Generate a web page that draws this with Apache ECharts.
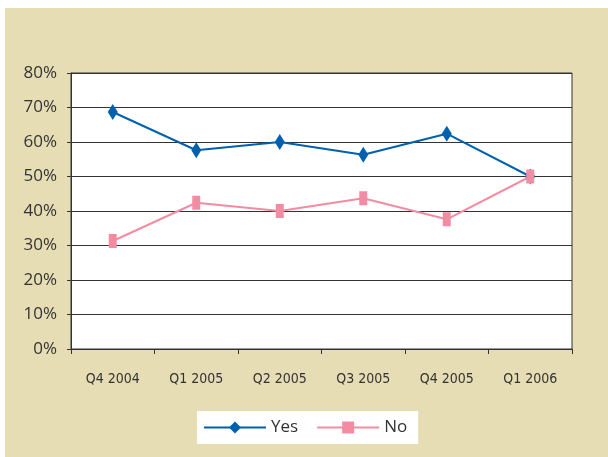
<!DOCTYPE html>
<html>
<head>
<meta charset="utf-8">
<script src="https://cdn.jsdelivr.net/npm/echarts@6/dist/echarts.min.js"></script>
<style>
  html, body { margin: 0; padding: 0; background: #fff; }
  #chart { position: absolute; left: 5px; top: 8px; width: 603px; height: 449px; background: #e6ddb5; }
</style>
</head>
<body>
<div id="chart"></div>
<script>
// quarters and survey shares (%)
var quarters = ['Q4 2004', 'Q1 2005', 'Q2 2005', 'Q3 2005', 'Q4 2005', 'Q1 2006'];
var yesValues = [68.7, 57.6, 60.0, 56.3, 62.4, 50.0];
var noValues = [31.3, 42.4, 40.0, 43.7, 37.6, 50.0];

var myChart = echarts.init(document.getElementById('chart'));
var option = {
    animation: false,
    textStyle: { fontFamily: 'Open Sans' },
    grid: {
        left: 66,
        top: 65,
        right: 36,
        bottom: 108,
        show: true,
        backgroundColor: '#fff',
        borderColor: '#333',
        borderWidth: 1
    },
    legend: {
        left: 192,
        top: 403,
        backgroundColor: '#fff',
        padding: [8, 11, 8, 6],
        itemWidth: 62,
        itemHeight: 15,
        itemGap: 18,
        textStyle: { color: '#333', fontSize: 17, fontFamily: 'Open Sans' },
        data: ['Yes', 'No']
    },
    xAxis: {
        type: 'category',
        data: quarters,
        boundaryGap: true,
        axisLine: { lineStyle: { color: '#333', width: 1 } },
        axisTick: { show: true, length: 5, lineStyle: { color: '#333' } },
        axisLabel: {
            color: '#333',
            fontSize: 14,
            fontFamily: 'DejaVu Sans Condensed, Liberation Sans Narrow, sans-serif',
            margin: 23
        }
    },
    yAxis: {
        type: 'value',
        min: 0,
        max: 80,
        interval: 10,
        axisLine: { show: true, lineStyle: { color: '#333', width: 1 } },
        axisTick: { show: true, length: 4, lineStyle: { color: '#333' } },
        axisLabel: {
            color: '#333',
            fontSize: 17,
            margin: 14,
            formatter: '{value}%'
        },
        splitLine: { show: true, lineStyle: { color: '#333', width: 1 } }
    },
    series: [
        {
            name: 'Yes',
            type: 'line',
            data: yesValues,
            color: '#0060b0',
            symbol: 'diamond',
            symbolSize: [10, 16],
            lineStyle: { width: 2, color: '#0060b0' },
            itemStyle: { color: '#0060b0' }
        },
        {
            name: 'No',
            type: 'line',
            data: noValues,
            color: '#f28ca2',
            symbol: 'rect',
            symbolSize: [8, 14],
            lineStyle: { width: 2, color: '#f28ca2' },
            itemStyle: { color: '#f28ca2' }
        }
    ]
};
myChart.setOption(option);
</script>
</body>
</html>
